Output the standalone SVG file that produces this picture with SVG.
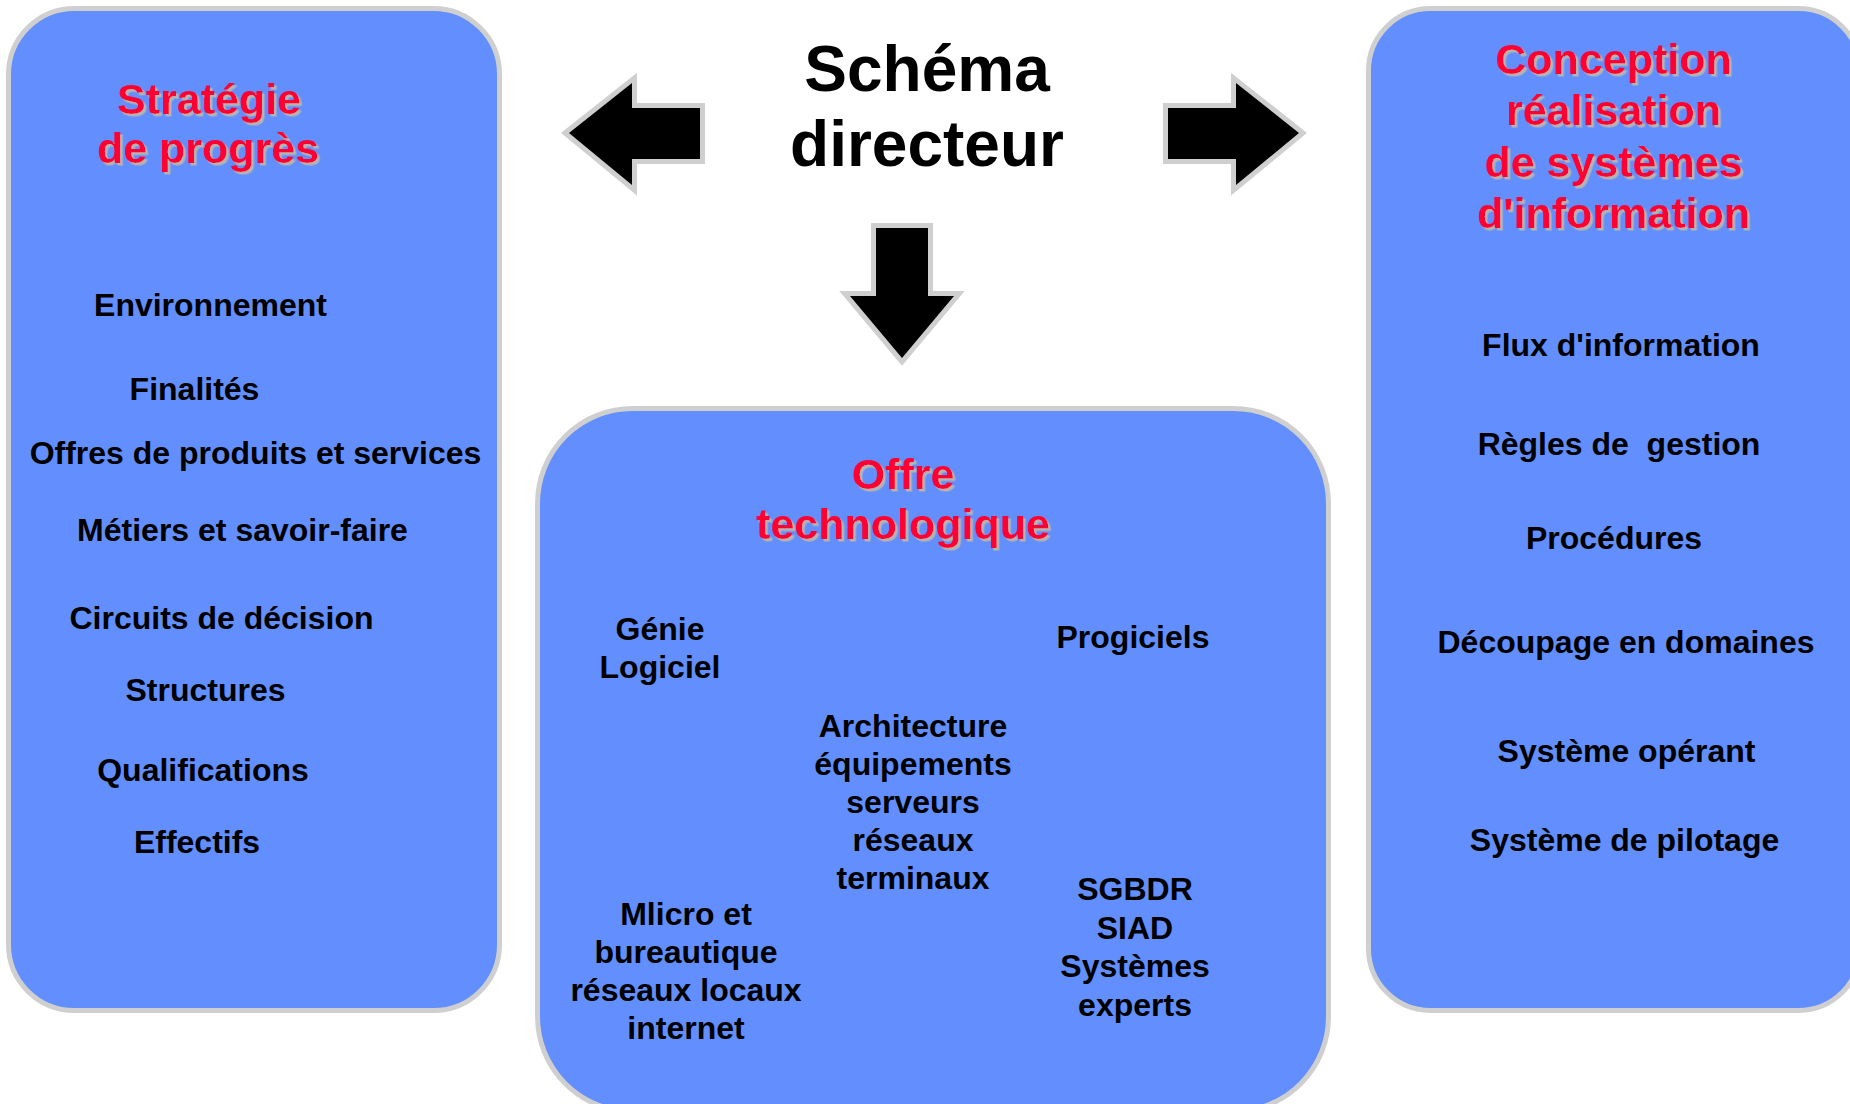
<svg xmlns="http://www.w3.org/2000/svg" width="1850" height="1104" viewBox="0 0 1850 1104">
  <defs>
    <filter id="shadow" x="-10%" y="-20%" width="120%" height="140%">
      <feDropShadow dx="2.5" dy="2.5" stdDeviation="0" flood-color="#b4b4b4" flood-opacity="1"/>
    </filter>
  </defs>
  <style>
    .box { fill: #628ffd; stroke: #cfcfcf; stroke-width: 5; }
    .arrow { fill: #000000; stroke: #cfcfcf; stroke-width: 10; stroke-linejoin: miter; stroke-miterlimit: 10; paint-order: stroke; }
    text { font-family: "Liberation Sans", Arial, "DejaVu Sans", sans-serif; font-weight: bold; text-anchor: middle; }
    .title { font-size: 43px; fill: #ff0033; filter: url(#shadow); }
    .item { font-size: 32px; fill: #000000; }
    .main { font-size: 64px; fill: #000000; }
  </style>
  <rect width="1850" height="1104" fill="#ffffff"/>

  <g id="node-strategie">
    <rect class="box" x="8.5" y="8.5" width="491" height="1002" rx="66" ry="66"/>
    <text class="title" x="209" y="114">Stratégie</text>
    <text class="title" x="208" y="163">de progrès</text>
    <text class="item" x="210.5" y="316">Environnement</text>
    <text class="item" x="194.5" y="400">Finalités</text>
    <text class="item" x="255.5" y="464">Offres de produits et services</text>
    <text class="item" x="242.5" y="541">Métiers et savoir-faire</text>
    <text class="item" x="221.5" y="629">Circuits de décision</text>
    <text class="item" x="205.5" y="701">Structures</text>
    <text class="item" x="203" y="781">Qualifications</text>
    <text class="item" x="197" y="853">Effectifs</text>
  </g>

  <g id="node-schema-directeur">
    <text class="main" x="927" y="91">Schéma</text>
    <text class="main" x="927" y="166">directeur</text>
  </g>

  <g id="node-offre">
    <rect class="box" x="537.5" y="408.5" width="791" height="703" rx="95" ry="95"/>
    <text class="title" x="903" y="489">Offre</text>
    <text class="title" x="903" y="539">technologique</text>
    <text class="item" x="660" y="640">Génie</text>
    <text class="item" x="660" y="678">Logiciel</text>
    <text class="item" x="1133" y="648">Progiciels</text>
    <text class="item" x="913" y="737">Architecture</text>
    <text class="item" x="913" y="775">équipements</text>
    <text class="item" x="913" y="813">serveurs</text>
    <text class="item" x="913" y="851">réseaux</text>
    <text class="item" x="913" y="889">terminaux</text>
    <text class="item" x="686" y="925">Mlicro et</text>
    <text class="item" x="686" y="963">bureautique</text>
    <text class="item" x="686" y="1001">réseaux locaux</text>
    <text class="item" x="686" y="1039">internet</text>
    <text class="item" x="1135" y="900">SGBDR</text>
    <text class="item" x="1135" y="938.5">SIAD</text>
    <text class="item" x="1135" y="977">Systèmes</text>
    <text class="item" x="1135" y="1015.5">experts</text>
  </g>

  <g id="node-conception">
    <rect class="box" x="1368.5" y="8.5" width="492" height="1002" rx="62" ry="62"/>
    <text class="title" x="1613.5" y="73.5">Conception</text>
    <text class="title" x="1613.5" y="125">réalisation</text>
    <text class="title" x="1613.5" y="176.5">de systèmes</text>
    <text class="title" x="1613.5" y="228">d'information</text>
    <text class="item" x="1621" y="356">Flux d'information</text>
    <text class="item" x="1619" y="455" xml:space="preserve">Règles de  gestion</text>
    <text class="item" x="1614" y="549">Procédures</text>
    <text class="item" x="1626" y="653">Découpage en domaines</text>
    <text class="item" x="1626.5" y="762">Système opérant</text>
    <text class="item" x="1624.5" y="851">Système de pilotage</text>
  </g>

  <g id="connectors">
    <polygon id="arrow-left" class="arrow" points="569,133 632,83 632,108 700,108 700,159 632,159 632,185"/>
    <polygon id="arrow-right" class="arrow" points="1299,133 1236,83 1236,108 1168,108 1168,159 1236,159 1236,185"/>
    <polygon id="arrow-down" class="arrow" points="902,358 850,296 876,296 876,228 928,228 928,296 954,296"/>
  </g>
</svg>
